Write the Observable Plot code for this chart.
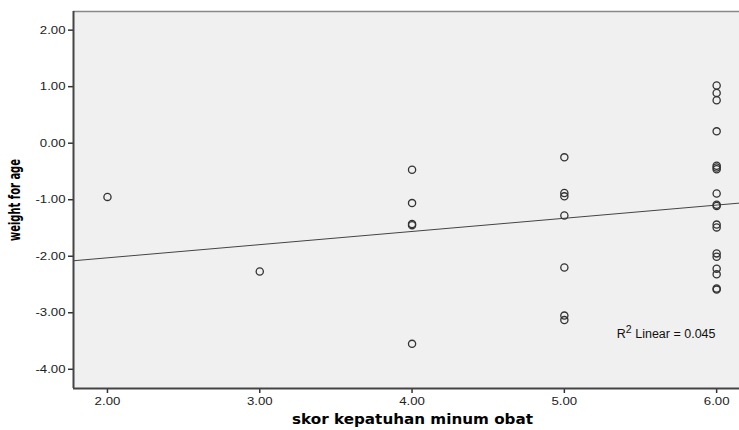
<!DOCTYPE html>
<html>
<head>
<meta charset="utf-8">
<script src="https://cdn.jsdelivr.net/npm/d3@7"></script>
<script src="https://cdn.jsdelivr.net/npm/@observablehq/plot@0.6"></script>
<style>
  html, body { margin: 0; padding: 0; background: #fff; }
</style>
</head>
<body>
<div id="chart"></div>
<script>
// Scores (x) and weight-for-age z-scores (y)
const scoreX = [2, 3, 4, 4, 4, 4, 4, 5, 5, 5, 5, 5, 5, 5,
  6, 6, 6, 6, 6, 6, 6, 6, 6, 6, 6, 6, 6, 6, 6, 6, 6, 6];
const weightY = [-0.95, -2.27, -0.47, -1.06, -1.43, -1.45, -3.55,
  -0.25, -0.88, -0.94, -1.28, -2.20, -3.05, -3.13,
  1.02, 0.89, 0.76, 0.21, -0.40, -0.43, -0.46, -0.89, -1.09, -1.11,
  -1.44, -1.49, -1.95, -2.01, -2.22, -2.32, -2.57, -2.59];

// Linear fit line endpoints (R² = 0.045)
const fitX = [1.777, 6.15];
const fitY = [-2.08, -1.06];

const xTicks = [2, 3, 4, 5, 6];
const yTicks = [-4, -3, -2, -1, 0, 1, 2];
const xDomain = [1.777, 6.15];
const yDomain = [-4.34, 2.33];

const points = scoreX.map((x, i) => ({x, y: weightY[i]}));
const fit = fitX.map((x, i) => ({x, y: fitY[i]}));

const fmt = d => d.toFixed(2);

const chart = Plot.plot({
  width: 739,
  height: 430,
  marginLeft: 73,
  marginRight: 0,
  marginTop: 11,
  marginBottom: 42,
  style: {background: "#fff", fontFamily: "'Liberation Sans', Arial, sans-serif", color: "#222"},
  x: {domain: xDomain},
  y: {domain: yDomain},
  marks: [
    Plot.frame({fill: "#f0f0f0", stroke: null}),
    Plot.ruleY([yDomain[1]], {stroke: "#888", strokeWidth: 1.5}),
    Plot.axisY({ticks: yTicks, tickFormat: fmt, tickSize: 5, tickPadding: 3, fontSize: 11, label: null, stroke: "#333", strokeWidth: 1.5, className: "ticklab"}),
    Plot.axisX({ticks: xTicks, tickFormat: fmt, tickSize: 5, tickPadding: 4, fontSize: 11, label: null, stroke: "#333", strokeWidth: 1.5, className: "ticklab"}),
    Plot.ruleX([xDomain[0]], {stroke: "#444", strokeWidth: 2}),
    Plot.ruleY([yDomain[0]], {stroke: "#444", strokeWidth: 2}),
    Plot.line(fit, {x: "x", y: "y", stroke: "#444", strokeWidth: 1}),
    Plot.dot(points, {x: "x", y: "y", r: 3.6, stroke: "#333", strokeWidth: 1.3, fill: "none"}),
    Plot.text(["R2 Linear = 0.045"], {frameAnchor: "bottom-right", dx: -24, dy: -51, fontSize: 12.5, fill: "#111", textAnchor: "end", className: "r2label"}),
    Plot.text(["weight for age"], {frameAnchor: "left", dx: -58, rotate: -90, textAnchor: "middle", fontSize: 15, fontWeight: "bold", fill: "#000",
      className: "ytitle", fontFamily: "'Liberation Sans Narrow', 'DejaVu Sans Condensed', sans-serif"}),
    Plot.text(["skor kepatuhan minum obat"], {frameAnchor: "bottom", dx: 6, dy: 35, fontSize: 14, fontWeight: "bold", fill: "#000",
      className: "xtitle", fontFamily: "'DejaVu Sans', Verdana, sans-serif"})
  ]
});

// Render the R² with a real superscript
d3.select(chart).selectAll(".r2label text").each(function() {
  const t = d3.select(this);
  t.text(null);
  t.append("tspan").text("R");
  t.append("tspan").attr("dy", "-0.4em").attr("font-size", "0.85em").text("2");
  t.append("tspan").attr("dy", "0.34em").text(" Linear = 0.045");
});

// Condensed look of the vertical title
d3.select(chart).selectAll(".ytitle text")
  .attr("textLength", 82)
  .attr("lengthAdjust", "spacingAndGlyphs");
d3.select(chart).selectAll(".xtitle text")
  .attr("textLength", 241)
  .attr("lengthAdjust", "spacingAndGlyphs");

document.getElementById("chart").appendChild(chart);

// Slightly wider tick labels, as in the reference
d3.select(chart).selectAll(".ticklab text").each(function() {
  const len = this.getComputedTextLength();
  if (len > 0) {
    this.setAttribute("textLength", len * 1.2);
    this.setAttribute("lengthAdjust", "spacingAndGlyphs");
  }
});
</script>
</body>
</html>
